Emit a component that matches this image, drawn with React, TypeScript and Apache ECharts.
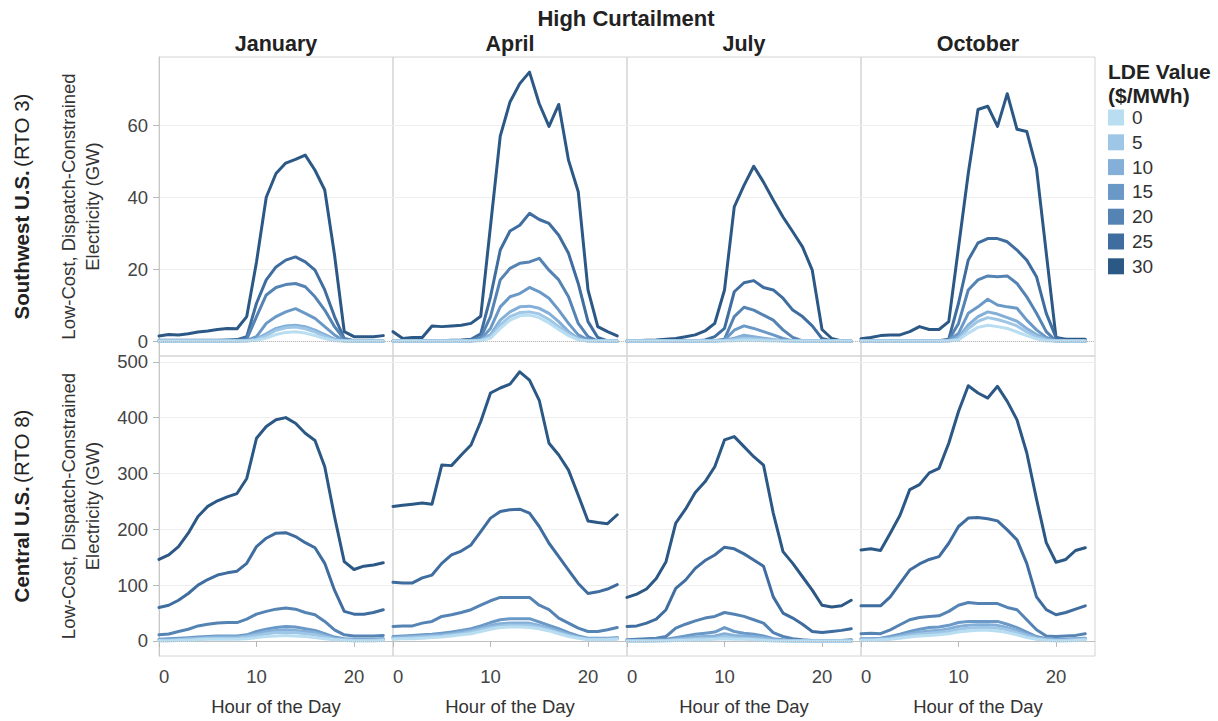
import React, { useEffect, useRef } from 'react';
import * as echarts from 'echarts';

// ---------- data ----------
const HOURS = [0, 1, 2, 3, 4, 5, 6, 7, 8, 9, 10, 11, 12, 13, 14, 15, 16, 17, 18, 19, 20, 21, 22, 23];
const LDE_VALUES = ['0', '5', '10', '15', '20', '25', '30'];
const LDE_COLORS = ['#b9ddf1', '#9ec6e6', '#83afd8', '#6b99c7', '#5483b4', '#3f6d9f', '#2b5885'];
const MONTHS = ['January', 'April', 'July', 'October'];
const REGION_NAMES = ['Southwest U.S.', 'Central U.S.'];
const REGION_CODES = ['(RTO 3)', '(RTO 8)'];
const Y_TICKS_SW = [0, 20, 40, 60];
const Y_TICKS_CT = [0, 100, 200, 300, 400, 500];
const X_TICKS = [0, 10, 20];

// Southwest U.S. (RTO 3), series ordered by LDE value 0..30
const swJan = [
  [0, 0, 0, 0, 0, 0, 0, 0, 0, 0, 0.2, 0.8, 1.8, 2.4, 2.6, 2.2, 1.5, 0.7, 0.1, 0, 0, 0, 0, 0],
  [0, 0, 0, 0, 0, 0, 0, 0, 0, 0, 0.4, 1.5, 3, 3.7, 3.9, 3.4, 2.5, 1.3, 0.3, 0, 0, 0, 0, 0],
  [0, 0, 0, 0, 0, 0, 0, 0, 0, 0.1, 0.6, 2, 3.5, 4.2, 4.4, 4, 3, 1.8, 0.5, 0, 0, 0, 0, 0],
  [0, 0, 0, 0, 0, 0, 0, 0, 0, 0.2, 1.2, 4.9, 6.8, 8.1, 9, 7.7, 6.3, 4, 1.7, 0, 0, 0, 0, 0],
  [0, 0, 0, 0, 0, 0, 0, 0, 0.1, 0.5, 6.8, 12.8, 14.9, 15.7, 16, 15.1, 12.3, 8.6, 4, 0.5, 0, 0, 0, 0],
  [0.2, 0.2, 0.2, 0.2, 0.2, 0.2, 0.2, 0.3, 0.4, 1.2, 10.5, 17, 20.6, 22.5, 23.4, 22, 19.7, 14.2, 6.8, 0.7, 0.1, 0.1, 0.1, 0.1],
  [1.4, 1.8, 1.7, 2.0, 2.5, 2.8, 3.2, 3.5, 3.4, 6.8, 22, 40, 46.6, 49.5, 50.5, 51.7, 47.5, 42, 24, 2.6, 1.2, 1.2, 1.2, 1.5],
];
const swApr = [
  [0, 0, 0, 0, 0, 0, 0, 0, 0, 0.1, 0.8, 3.5, 5.8, 7, 7.2, 6.5, 5, 3.2, 1.5, 0.3, 0, 0, 0, 0],
  [0, 0, 0, 0, 0, 0, 0, 0, 0, 0.2, 1.2, 4.5, 6.8, 7.9, 8.1, 7.5, 6, 4, 2, 0.5, 0, 0, 0, 0],
  [0, 0, 0, 0, 0, 0, 0, 0, 0, 0.3, 1.7, 5.8, 8.1, 9.5, 9.7, 9.1, 7.7, 5.4, 2.6, 0.7, 0, 0, 0, 0],
  [0, 0, 0, 0, 0, 0, 0, 0, 0, 0.5, 3.5, 9.5, 12.3, 13.2, 14.9, 13.7, 11.9, 8.6, 4.9, 1.7, 0.3, 0, 0, 0],
  [0, 0, 0, 0, 0, 0, 0, 0, 0.2, 1, 6.8, 17, 20.2, 21.6, 22, 23, 19.7, 17, 12.3, 4.9, 1.2, 0, 0, 0],
  [0, 0, 0, 0, 0, 0.1, 0.2, 0.3, 0.5, 2, 12.3, 25.3, 30.6, 32.2, 35.5, 33.8, 32.7, 29.4, 24.4, 16, 5.4, 1, 0, 0],
  [2.6, 0.7, 1.0, 1.0, 4.2, 4.0, 4.2, 4.4, 4.9, 6.9, 32, 57, 66.5, 71.6, 74.8, 66, 59.7, 65.8, 50.3, 41.5, 14.2, 4, 2.6, 1.4],
];
const swJul = [
  [0, 0, 0, 0, 0, 0, 0, 0, 0, 0, 0, 0.1, 0.3, 0.2, 0.1, 0, 0, 0, 0, 0, 0, 0, 0, 0],
  [0, 0, 0, 0, 0, 0, 0, 0, 0, 0, 0.1, 0.4, 0.8, 0.6, 0.4, 0.2, 0, 0, 0, 0, 0, 0, 0, 0],
  [0, 0, 0, 0, 0, 0, 0, 0, 0, 0, 0.2, 0.8, 1.6, 1.2, 0.8, 0.4, 0.1, 0, 0, 0, 0, 0, 0, 0],
  [0, 0, 0, 0, 0, 0, 0, 0, 0, 0, 0.3, 3, 4.2, 3.5, 2.6, 1.7, 0.7, 0, 0, 0, 0, 0, 0, 0],
  [0, 0, 0, 0, 0, 0, 0, 0, 0, 0.1, 0.5, 6.8, 9.4, 8.6, 7.2, 5.8, 3.1, 1.0, 0, 0, 0, 0, 0, 0],
  [0, 0, 0, 0, 0, 0, 0, 0, 0.3, 1.2, 3.5, 13.7, 16.2, 16.8, 14.9, 14.2, 11.9, 8.6, 6.8, 4.2, 0.7, 0, 0, 0],
  [0.1, 0.1, 0.2, 0.3, 0.5, 0.7, 1.2, 1.7, 2.8, 4.9, 14.2, 37.3, 43.3, 48.6, 44.2, 39.2, 34.5, 30.4, 26.2, 19.7, 3.2, 0.7, 0, 0],
];
const swOct = [
  [0, 0, 0, 0, 0, 0, 0, 0, 0, 0, 0.3, 2.2, 3.8, 4.4, 4, 3.5, 2.5, 1.5, 0.6, 0, 0, 0, 0, 0],
  [0, 0, 0, 0, 0, 0, 0, 0, 0, 0, 0.5, 3.5, 5.5, 6.5, 6, 5.2, 4.2, 2.5, 1.2, 0.3, 0, 0, 0, 0],
  [0, 0, 0, 0, 0, 0, 0, 0, 0, 0.1, 1, 4.5, 6.8, 8.1, 7.5, 6.5, 5.5, 3.5, 1.8, 0.5, 0, 0, 0, 0],
  [0, 0, 0, 0, 0, 0, 0, 0, 0, 0.2, 2.1, 7.7, 9.5, 11.6, 10, 9.5, 9.1, 5.8, 3.1, 1, 0, 0, 0, 0],
  [0, 0, 0, 0, 0, 0, 0, 0, 0, 0.3, 4.9, 14.2, 17, 18.1, 17.9, 18.1, 16, 12.3, 7.7, 2.6, 0, 0, 0, 0],
  [0, 0, 0, 0, 0, 0, 0, 0, 0.1, 0.5, 10.5, 22.5, 27.3, 28.5, 28.5, 27.6, 25.3, 22.5, 17.9, 7.7, 1, 0, 0, 0],
  [0.6, 1.0, 1.5, 1.7, 1.7, 2.6, 4.0, 3.2, 3.2, 5.4, 26, 46.6, 64.4, 65.3, 59.7, 68.8, 58.9, 58.3, 48, 24.5, 1.0, 0.5, 0.5, 0.5],
];

// Central U.S. (RTO 8)
const ctJan = [
  [0, 0, 1, 1, 2, 3, 3, 3, 3, 4, 6, 8, 9, 10, 9, 8, 6, 4, 2, 1, 0, 0, 0, 1],
  [1, 1, 2, 3, 4, 5, 5, 5, 5, 7, 10, 13, 15, 15, 15, 13, 11, 7, 3, 2, 1, 1, 1, 2],
  [2, 2, 3, 4, 5, 6, 7, 7, 7, 9, 13, 17, 19, 20, 19, 17, 15, 10, 5, 3, 2, 2, 2, 3],
  [3, 4, 5, 6, 7, 8, 9, 9, 9, 11, 17, 21, 24, 26, 25, 22, 19, 13, 7, 4, 3, 3, 3, 4],
  [11, 12.5, 17, 21, 27, 30, 32, 33, 33, 39, 48, 53, 57, 59, 57, 51, 47, 35, 20, 11, 9, 9, 9, 10],
  [60, 64, 73, 85, 100, 110, 118, 122, 125, 139, 169, 184, 193, 194, 187, 176, 167, 139, 91, 53, 48, 48, 51, 56],
  [146, 154, 169, 193, 223, 241, 251, 258, 264, 291, 363, 384, 396, 400, 390, 372, 359, 312, 223, 142, 128, 134, 136, 140],
];
const ctApr = [
  [3, 4, 4, 5, 6, 7, 9, 11, 13, 17, 21, 24, 25, 25, 24, 22, 18, 13, 8, 5, 2, 2, 2, 3],
  [4, 5, 6, 7, 8, 9, 11, 13, 16, 20, 24, 27, 28, 28, 28, 25, 20, 15, 10, 6, 3, 3, 3, 4],
  [6, 7, 8, 9, 10, 11, 13, 16, 19, 23, 28, 31, 32, 32, 32, 28, 23, 18, 12, 7, 4, 4, 4, 5],
  [8, 9, 10, 11, 12, 14, 16, 19, 22, 27, 33, 38, 40, 40, 40, 34, 28, 22, 15, 9, 5, 5, 5, 6],
  [26, 27, 27, 32, 35, 44, 47, 51, 56, 64, 72, 78, 78, 78, 78, 64, 56, 41, 32, 23, 17, 17, 20, 24],
  [105, 104, 104, 113, 118, 139, 154, 161, 172, 196, 220, 232, 235, 236, 229, 205, 175, 151, 127, 103, 85, 88, 93, 101],
  [241, 243, 245, 247, 245, 315, 314, 333, 351, 393, 444, 453, 460, 482, 467, 431, 354, 333, 306, 261, 215, 212, 210, 226],
];
const ctJul = [
  [0, 0, 0, 0, 0, 1, 1, 2, 2, 3, 4, 3, 3, 2, 1, 0, 0, 0, 0, 0, 0, 0, 0, 0],
  [0, 0, 0, 0, 1, 2, 3, 4, 5, 5, 8, 6, 5, 4, 3, 1, 0, 0, 0, 0, 0, 0, 0, 0],
  [0, 0, 0, 1, 1, 3, 5, 7, 8, 9, 13, 10, 9, 8, 6, 3, 1, 0, 0, 0, 0, 0, 0, 0],
  [1, 1, 1, 2, 3, 6, 9, 12, 14, 16, 24, 17, 14, 12, 9, 4, 2, 1, 1, 0, 0, 0, 0, 0],
  [2, 3, 4, 5, 8, 23, 30, 36, 41, 44, 51, 48, 44, 38, 32, 15, 8, 4, 2, 1, 1, 1, 1, 2],
  [26, 27, 32, 39, 56, 94, 109, 130, 144, 154, 168, 165, 156, 145, 134, 79, 50, 41, 30, 17, 15, 17, 19, 22],
  [78, 84, 93, 112, 142, 211, 236, 266, 285, 312, 360, 366, 348, 330, 315, 229, 160, 139, 115, 91, 64, 61, 63, 73],
];
const ctOct = [
  [1, 1, 2, 3, 5, 7, 9, 10, 11, 13, 16, 18, 19, 19, 18, 15, 11, 6, 3, 1, 0, 0, 1, 2],
  [2, 2, 3, 4, 7, 10, 12, 14, 15, 17, 21, 23, 24, 24, 23, 20, 15, 9, 4, 2, 1, 1, 2, 3],
  [3, 3, 4, 6, 9, 13, 16, 18, 19, 22, 26, 28, 29, 29, 28, 24, 19, 12, 6, 3, 2, 2, 3, 4],
  [4, 4, 5, 8, 12, 17, 21, 24, 25, 28, 33, 35, 35, 35, 35, 30, 24, 16, 8, 4, 3, 3, 4, 5],
  [13, 14, 13, 20, 29, 38, 42, 44, 45, 53, 64, 69, 67, 67, 67, 60, 56, 38, 20, 9, 8, 9, 10, 13],
  [63, 63, 63, 79, 103, 127, 138, 146, 151, 175, 205, 220, 221, 219, 215, 199, 181, 139, 79, 56, 47, 51, 57, 63],
  [163, 165, 162, 193, 225, 271, 280, 301, 309, 354, 411, 457, 444, 435, 456, 429, 396, 337, 254, 176, 141, 146, 162, 167],
];

const PANELS = [
  [swJan, swApr, swJul, swOct],
  [ctJan, ctApr, ctJul, ctOct],
];
const ROW_TICKS = [Y_TICKS_SW, Y_TICKS_CT];

// ---------- layout ----------
const FONT = '"Liberation Sans", Arial, sans-serif';
const COL_LEFT = [159, 393, 627, 861];
const COL_W = 234;
const ROW_TOP = [57, 356];
const ROW_H = [299, 300];
const Y_RANGE = [
  [-4.17, 79],
  [-26.9, 510.3],
];
const ROW_SPLIT = [4, 5];

export default function App() {
  const ref = useRef<HTMLDivElement>(null);

  useEffect(() => {
    document.body.style.margin = '0';
    const chart = echarts.init(ref.current as HTMLDivElement, null, { renderer: 'svg', width: 1218, height: 721 });

    const grid: any[] = [];
    const xAxis: any[] = [];
    const yAxis: any[] = [];
    const series: any[] = [];
    let idx = 0;

    for (let r = 0; r < 2; r++) {
      for (let c = 0; c < 4; c++) {
        const yTicks = ROW_TICKS[r];
        grid.push({
          left: COL_LEFT[c],
          top: ROW_TOP[r],
          width: COL_W,
          height: ROW_H[r],
          show: true,
          borderColor: '#d4d4d4',
          borderWidth: 1,
          backgroundColor: 'transparent',
        });
        xAxis.push({
          type: 'value',
          gridIndex: idx,
          min: 0,
          max: 24,
          interval: 10,
          show: r === 1,
          axisLine: { show: true, lineStyle: { color: '#c8c8c8' } },
          axisTick: { show: true, length: 6, customValues: X_TICKS, lineStyle: { color: '#b8b8b8' } },
          axisLabel: {
            customValues: X_TICKS,
            formatter: (v: number) => (X_TICKS.indexOf(v) >= 0 ? String(v) : ''),
            fontSize: 18.5,
            color: '#444',
            fontFamily: FONT,
            margin: 11,
            alignMinLabel: 'left',
          },
          splitLine: { show: false },
          name: 'Hour of the Day',
          nameLocation: 'middle',
          nameGap: 41,
          nameTextStyle: { fontSize: 18.5, color: '#333', fontFamily: FONT },
        });
        yAxis.push({
          type: 'value',
          gridIndex: idx,
          min: Y_RANGE[r][0],
          max: Y_RANGE[r][1],
          splitNumber: ROW_SPLIT[r],
          axisLine: { show: c === 0, lineStyle: { color: '#c8c8c8' } },
          axisTick: { show: c === 0, length: 6, customValues: yTicks, lineStyle: { color: '#b8b8b8' } },
          axisLabel: {
            show: c === 0,
            customValues: yTicks,
            formatter: (v: number) => (yTicks.indexOf(v) >= 0 ? String(v) : ''),
            fontSize: 18.5,
            color: '#444',
            fontFamily: FONT,
            margin: 11,
          },
          splitLine: { show: true, lineStyle: { color: '#eeeeee', width: 1 } },
        });

        const panel = PANELS[r][c];
        for (let k = LDE_VALUES.length - 1; k >= 0; k--) {
          const s: any = {
            type: 'line',
            name: LDE_VALUES[k],
            xAxisIndex: idx,
            yAxisIndex: idx,
            data: HOURS.map((h, i) => [h, panel[k][i]]),
            symbol: 'none',
            showSymbol: false,
            lineStyle: { width: 3, color: LDE_COLORS[k], join: 'round', cap: 'round' },
            itemStyle: { color: LDE_COLORS[k] },
            emphasis: { disabled: true },
            silent: true,
          };
          if (k === LDE_VALUES.length - 1) {
            s.markLine = {
              silent: true,
              symbol: ['none', 'none'],
              label: { show: false },
              lineStyle: { type: 'dotted', color: '#b8b8b8', width: 1 },
              data: [{ yAxis: 0 }],
            };
          }
          series.push(s);
        }
        idx++;
      }
    }

    const txt = (x: number, y: number, text: string, font: string, align: string, fill = '#222') => ({
      type: 'text',
      x,
      y,
      style: {
        text,
        font,
        fill,
        textAlign: align,
        textVerticalAlign: 'middle',
        align,
        verticalAlign: 'middle',
      },
    });

    const graphic: any[] = [
      txt(626, 18, 'High Curtailment', `bold 22px ${FONT}`, 'center'),
      txt(1108, 71, 'LDE Value', `bold 21px ${FONT}`, 'left'),
      txt(1108, 95, '($/MWh)', `bold 21px ${FONT}`, 'left'),
    ];
    MONTHS.forEach((m, c) => {
      graphic.push(txt(COL_LEFT[c] + COL_W / 2, 44, m, `bold 21.5px ${FONT}`, 'center'));
    });
    REGION_NAMES.forEach((name, r) => {
      const cy = ROW_TOP[r] + ROW_H[r] / 2;
      graphic.push({
        type: 'text',
        x: 21,
        y: cy,
        rotation: Math.PI / 2,
        style: {
          text: `{b|${name}} {n|${REGION_CODES[r]}}`,
          rich: {
            b: { font: `bold 20.5px ${FONT}`, fill: '#222', color: '#222' },
            n: { font: `20.5px ${FONT}`, fill: '#222', color: '#222' },
          },
          textAlign: 'center',
          textVerticalAlign: 'middle',
          align: 'center',
          verticalAlign: 'middle',
        },
      });
      graphic.push({
        type: 'text',
        x: 80,
        y: cy,
        rotation: Math.PI / 2,
        style: {
          text: 'Low-Cost, Dispatch-Constrained\nElectricity (GW)',
          font: `18.5px ${FONT}`,
          lineHeight: 24,
          fill: '#333',
          textAlign: 'center',
          textVerticalAlign: 'middle',
          align: 'center',
          verticalAlign: 'middle',
        },
      });
    });

    chart.setOption({
      animation: false,
      backgroundColor: '#ffffff',
      grid,
      xAxis,
      yAxis,
      series,
      graphic,
      legend: {
        data: LDE_VALUES,
        orient: 'vertical',
        left: 1108,
        top: 108,
        padding: 0,
        itemWidth: 16,
        itemHeight: 16,
        itemGap: 5.8,
        icon: 'rect',
        selectedMode: false,
        itemStyle: { borderWidth: 0 },
        textStyle: { fontSize: 19, color: '#333', fontFamily: FONT, lineHeight: 17, padding: [0, 0, 0, 3] },
      },
    });

    return () => {
      chart.dispose();
    };
  }, []);

  return <div ref={ref} style={{ width: 1218, height: 721 }} />;
}
